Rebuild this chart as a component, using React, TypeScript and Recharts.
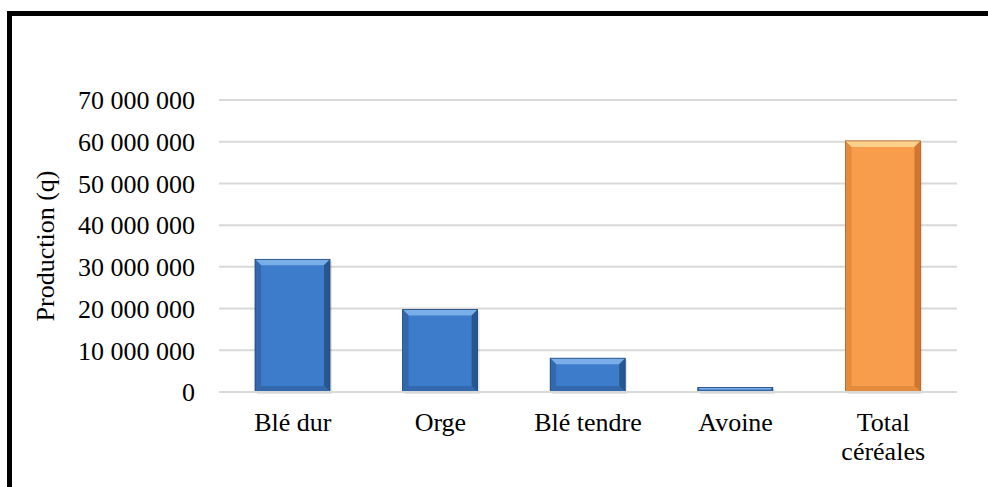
import { BarChart, Bar, XAxis, YAxis, CartesianGrid } from "recharts"

const categories = ["Blé dur", "Orge", "Blé tendre", "Avoine", "Total céréales"]
const production = [31800000, 19800000, 8100000, 1100000, 60200000]
const yTicks = [0, 10000000, 20000000, 30000000, 40000000, 50000000, 60000000, 70000000]

const data = categories.map((name, i) => ({ name, value: production[i] }))

const FONT = "'Liberation Serif', 'Times New Roman', serif"

const blue = { main: "#3d7cca", light: "#79aee8", side: "#3368ad", dark: "#28578f", edge: "#1f4577" }
const orange = { main: "#f89d4c", light: "#fdd08e", side: "#e58b3d", dark: "#cf772f", edge: "#b1601f" }

const fmt = (v: number) => String(v).replace(/\B(?=(\d{3})+(?!\d))/g, " ")

// labels longer than this wrap onto one line per word
const MAX_CHARS = 12

function BevelBar(props: any) {
  const { x, y, width: w, height: h, index } = props
  if (!h || h <= 0) return null
  const c = index === categories.length - 1 ? orange : blue
  const b = Math.min(6, h / 2, w / 2)
  const p = (pts: number[][]) => pts.map((q) => q.join(",")).join(" ")
  return (
    <g>
      <rect x={x + 2} y={y + 2} width={w} height={h} fill="#000" opacity={0.1} />
      <rect x={x} y={y} width={w} height={h} fill={c.main} />
      <polygon points={p([[x, y], [x + w, y], [x + w - b, y + b], [x + b, y + b]])} fill={c.light} />
      <polygon points={p([[x, y], [x + b, y + b], [x + b, y + h - b], [x, y + h]])} fill={c.side} />
      <polygon points={p([[x + w, y], [x + w - b, y + b], [x + w - b, y + h - b], [x + w, y + h]])} fill={c.dark} />
      <polygon points={p([[x, y + h], [x + b, y + h - b], [x + w - b, y + h - b], [x + w, y + h]])} fill={c.side} />
      <rect x={x} y={y} width={w} height={h} fill="none" stroke={c.edge} strokeWidth={0.8} />
    </g>
  )
}

function CategoryTick(props: any) {
  const { x, y, payload } = props
  const label: string = payload.value
  const lines = label.length > MAX_CHARS ? label.split(" ") : [label]
  return (
    <text x={x} y={y} textAnchor="middle" fontSize={26} fontFamily={FONT} fill="#000">
      {lines.map((line, i) => (
        <tspan key={i} x={x} dy={i === 0 ? "0.71em" : 29}>
          {line}
        </tspan>
      ))}
    </text>
  )
}

export default function App() {
  return (
    <div
      style={{
        position: "absolute",
        left: 7,
        top: 11,
        width: 981,
        height: 476,
        borderLeft: "5px solid #000",
        borderTop: "5px solid #000",
        boxSizing: "border-box",
        background: "#fff",
      }}
    >
      <BarChart width={976} height={471} data={data} margin={{ top: 84, right: 31, left: 0, bottom: 35 }}>
        <CartesianGrid vertical={false} stroke="#d9d9d9" strokeWidth={2} />
        <XAxis
          dataKey="name"
          axisLine={{ stroke: "#d9d9d9", strokeWidth: 2 }}
          tickLine={false}
          tickMargin={15}
          height={60}
          interval={0}
          tick={<CategoryTick />}
        />
        <YAxis
          domain={[0, 70000000]}
          ticks={yTicks}
          width={207}
          axisLine={false}
          tickLine={false}
          tickMargin={18}
          tickFormatter={fmt}
          tick={{ fontSize: 26, fontFamily: FONT, fill: "#000" }}
          label={{
            value: "Production (q)",
            angle: -90,
            position: "insideLeft",
            offset: 33,
            style: { textAnchor: "middle", fontSize: 26, fontFamily: FONT, fill: "#000" },
          }}
        />
        <Bar dataKey="value" barSize={75} shape={<BevelBar />} isAnimationActive={false} />
      </BarChart>
    </div>
  )
}
